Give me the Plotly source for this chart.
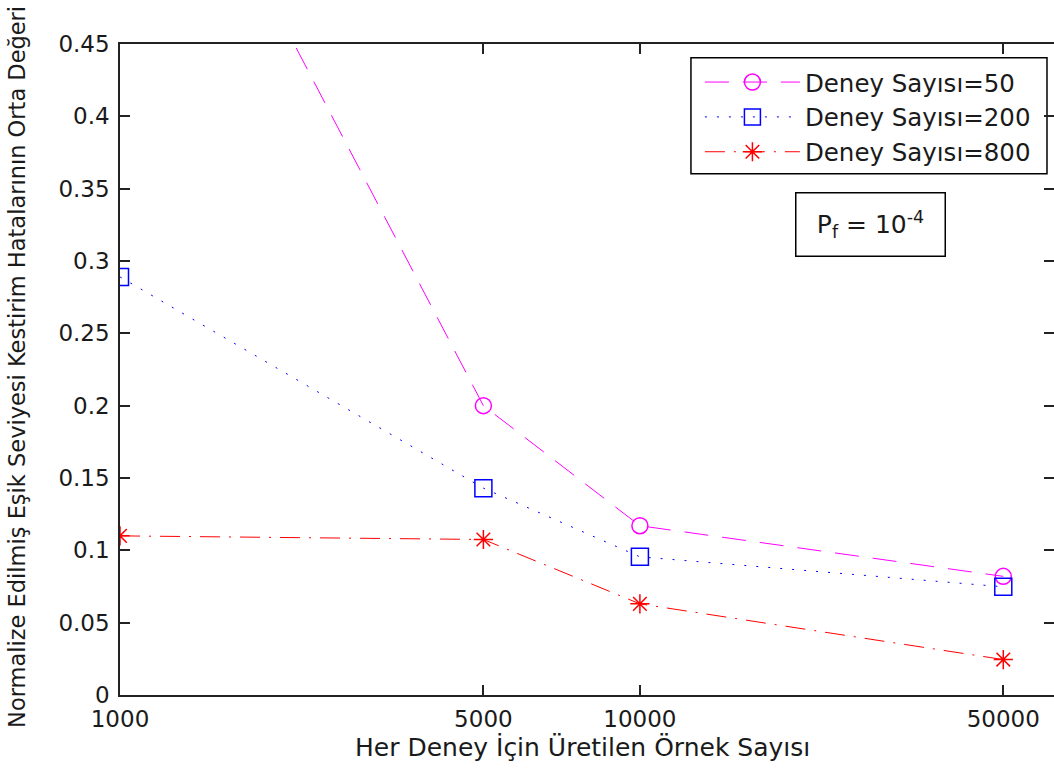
import plotly.graph_objects as go

samples = [1000, 5000, 10000, 50000]
x_tick_labels = ["1000", "5000", "10000", "50000"]
err_50 = [0.68, 0.200, 0.117, 0.082]
err_200 = [0.289, 0.143, 0.0955, 0.0748]
err_800 = [0.110, 0.1075, 0.063, 0.0245]
y_ticks = [0, 0.05, 0.1, 0.15, 0.2, 0.25, 0.3, 0.35, 0.4, 0.45]
y_tick_labels = ["0", "0.05", "0.1", "0.15", "0.2", "0.25", "0.3", "0.35", "0.4", "0.45"]
names = ["Deney Sayısı=50", "Deney Sayısı=200", "Deney Sayısı=800"]
x_title = "Her Deney İçin Üretilen Örnek Sayısı"
y_title = "Normalize Edilmiş Eşik Seviyesi Kestirim Hatalarının Orta Değeri"

FONT = "DejaVu Sans, sans-serif"
TXT = "#1a1a1a"

fig = go.Figure()
fig.add_trace(go.Scatter(
    x=samples, y=err_50, name=names[0], legendgroup="g1", mode="lines+markers",
    line=dict(color="#ff00ff", width=1, dash="24px,14px"),
    marker=dict(symbol="circle-open", size=16, color="#ff00ff", line=dict(width=1.5, color="#ff00ff"))))
fig.add_trace(go.Scatter(
    x=samples, y=err_200, name=names[1], legendgroup="g2", mode="lines+markers",
    line=dict(color="#0000ff", width=1, dash="2px,10px"),
    marker=dict(symbol="square-open", size=17, color="#0000ff", line=dict(width=1.5, color="#0000ff"))))
fig.add_trace(go.Scatter(
    x=samples, y=err_800, name=names[2], legendgroup="g3", mode="lines+markers",
    line=dict(color="#ff0000", width=1, dash="20px,9px,2px,9px"),
    marker=dict(symbol="asterisk-open", size=16, color="#ff0000", line=dict(width=1.5, color="#ff0000"))))
# helper trace for right-side mirrored ticks
fig.add_trace(go.Scatter(x=samples, y=err_800, yaxis="y2", mode="lines",
                         line=dict(color="rgba(0,0,0,0)"), showlegend=False, hoverinfo="skip"))

fig.update_layout(
    width=1054, height=769,
    margin=dict(l=120, r=0, t=44, b=73.5),
    paper_bgcolor="white", plot_bgcolor="white",
    font=dict(family=FONT, size=23, color=TXT),
    showlegend=True,
    legend=dict(x=0.6209, y=0.976, xanchor="left", yanchor="top",
                bgcolor="rgba(0,0,0,0)", borderwidth=0,
                font=dict(family=FONT, size=24.5, color=TXT),
                itemwidth=95, tracegroupgap=0),
    xaxis=dict(type="log", range=[3, 4.7965], automargin=False,
               tickvals=samples, ticktext=x_tick_labels,
               ticks="inside", ticklen=10, tickcolor="#222222", tickwidth=1.5,
               showline=True, linecolor="#222222", linewidth=1.5, mirror="ticks",
               showgrid=False, zeroline=False, ticklabelstandoff=3,
               tickfont=dict(family=FONT, size=23, color=TXT)),
    yaxis=dict(range=[0, 0.45], tickvals=y_ticks, ticktext=y_tick_labels, automargin=False,
               ticks="inside", ticklen=10, tickcolor="#222222", tickwidth=1.5,
               showline=True, linecolor="#222222", linewidth=1.5, mirror=False,
               showgrid=False, zeroline=False, ticklabelstandoff=4,
               tickfont=dict(family=FONT, size=23, color=TXT)),
    yaxis2=dict(overlaying="y", side="right", range=[0, 0.45], tickvals=y_ticks, automargin=False,
                ticks="inside", ticklen=10, tickcolor="#222222", tickwidth=1.5,
                showticklabels=False, showline=False, showgrid=False, zeroline=False),
)

# legend frame (white fill below traces)
fig.add_shape(type="rect", xref="paper", yref="paper",
              x0=0.6113, x1=0.9925, y0=0.8005, y1=0.979,
              line=dict(color="black", width=1.5), fillcolor="white", layer="below")

fig.add_annotation(
    xref="paper", yref="paper", x=0.4957, y=-0.0805, xanchor="center", yanchor="middle",
    text=x_title, showarrow=False, font=dict(family=FONT, size=25, color=TXT))
fig.add_annotation(
    xref="paper", yref="paper", x=-0.1103, y=0.504, xanchor="center", yanchor="middle",
    text=y_title, textangle=-90, showarrow=False, font=dict(family=FONT, size=22.5, color=TXT))

fig.add_annotation(
    xref="paper", yref="paper", x=0.8035, y=0.723, xanchor="center", yanchor="middle",
    text="P<sub>f</sub> = 10<sup>-4</sup>", showarrow=False,
    font=dict(family=FONT, size=25, color=TXT),
    bordercolor="black", borderwidth=1.5, bgcolor="white",
    width=146, height=60)

fig.write_html("out.html", config={"displayModeBar": False},
               post_script="document.body.style.margin='0';document.body.style.overflow='hidden';")
